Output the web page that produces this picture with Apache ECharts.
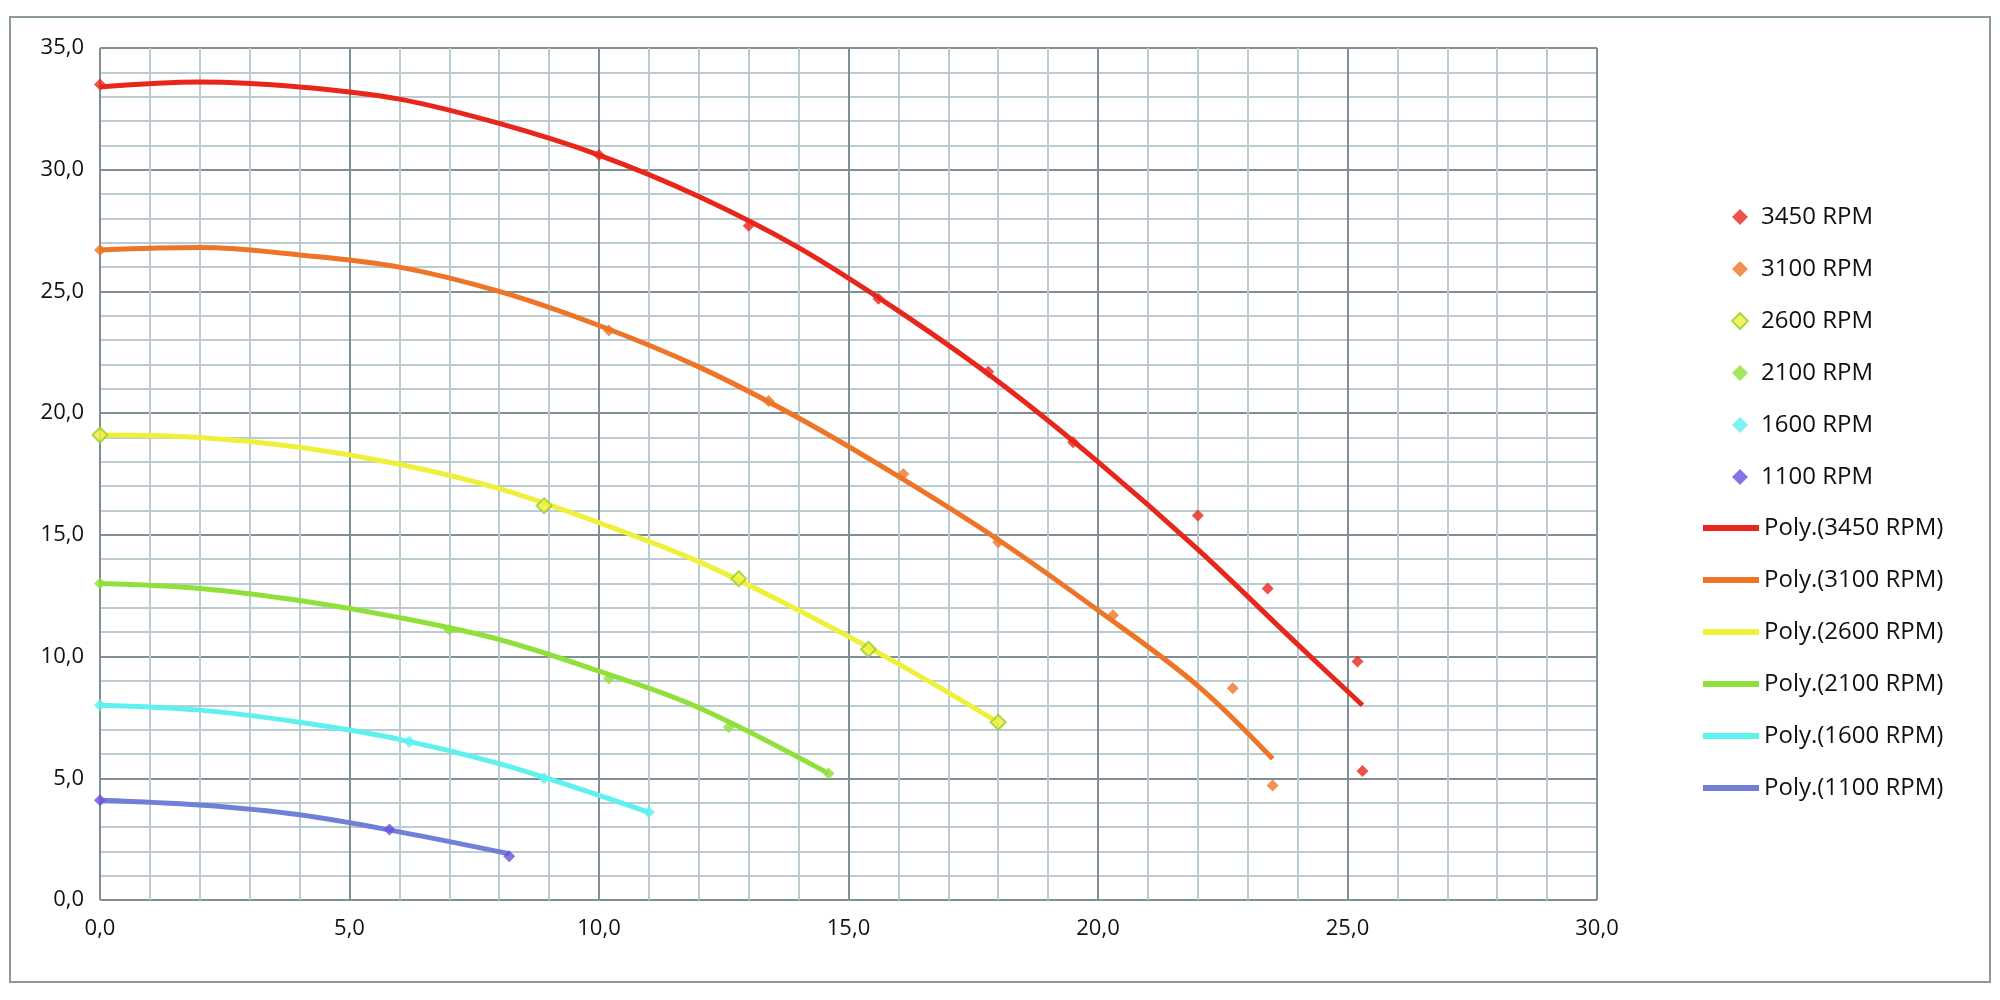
<!DOCTYPE html>
<html><head><meta charset="utf-8">
<script src="https://cdn.jsdelivr.net/npm/echarts@6/dist/echarts.min.js"></script>
<style>html,body{margin:0;background:#fff}#c{width:2000px;height:1000px}</style>
</head><body><div id="c"></div>
<script>
const names = ['3450 RPM','3100 RPM','2600 RPM','2100 RPM','1600 RPM','1100 RPM'];
const colors = ['#e8261c','#ee7527','#eef03a','#8fe03a','#5ff0f0','#7080d8'];
const pointColors = ['#e8261c','#ee7527','#eef03a','#8fe03a','#5ff0f0','#6a4fe0'];
const pts3450 = [[0,33.5],[10,30.6],[13,27.7],[15.6,24.7],[17.8,21.7],[19.5,18.8],[22,15.8],[23.4,12.8],[25.2,9.8],[25.3,5.3]];
const pts3100 = [[0,26.7],[10.2,23.4],[13.4,20.5],[16.1,17.5],[18,14.7],[20.3,11.7],[22.7,8.7],[23.5,4.7]];
const pts2600 = [[0,19.1],[8.9,16.2],[12.8,13.2],[15.4,10.3],[18,7.3]];
const pts2100 = [[0,13],[7,11.1],[10.2,9.1],[12.6,7.1],[14.6,5.2]];
const pts1600 = [[0,8],[6.2,6.5],[8.9,5.0],[11,3.6]];
const pts1100 = [[0,4.1],[5.8,2.9],[8.2,1.8]];
const fit3450 = [[0,33.4],[2,33.6],[4,33.4],[6,32.9],[8,31.9],[10,30.6],[12,28.9],[14,26.8],[16,24.2],[18,21.3],[20,18.0],[22,14.4],[24,10.5],[25.3,8.0]];
const fit3100 = [[0,26.7],[2,26.8],[4,26.5],[6,26.0],[8,25.0],[10,23.6],[12,21.9],[14,19.8],[16,17.4],[18,14.8],[20,11.9],[22,8.8],[23.5,5.8]];
const fit2600 = [[0,19.1],[2,19.0],[4,18.6],[6,17.9],[8,16.9],[10,15.5],[12,13.9],[14,11.9],[16,9.7],[18,7.3]];
const fit2100 = [[0,13.0],[2,12.8],[4,12.3],[6,11.6],[8,10.7],[10,9.4],[12,7.9],[14.6,5.2]];
const fit1600 = [[0,8.0],[2,7.8],[4,7.3],[6,6.6],[8,5.6],[10,4.3],[11,3.6]];
const fit1100 = [[0,4.1],[2,3.9],[4,3.5],[6,2.8],[8.2,1.9]];
const pts = [pts3450,pts3100,pts2600,pts2100,pts1600,pts1100];
const fits = [fit3450,fit3100,fit2600,fit2100,fit1600,fit1100];
const polyNames = names.map(n => 'Poly.(' + n + ')');

const series = [];
fits.forEach((f,i) => series.push({type:'line', name: polyNames[i], data:f, smooth:0.35, showSymbol:false,
  lineStyle:{color:colors[i], width:5}, itemStyle:{color:colors[i]}, z:2}));
pts.forEach((p,i) => series.push({type:'scatter', name: names[i], data:p, symbol:'diamond', symbolSize: i===2?15:12,
  itemStyle: i===2 ? {color:'#eef03a', borderColor:'#9acd32', borderWidth:2} : {color:pointColors[i]}, z:3}));

const fmt = v => v.toFixed(1).replace('.', ',');
const lab = {fontFamily:'Open Sans', fontSize:22, color:'#111'};
const chart = echarts.init(document.getElementById('c'));
chart.setOption({
  animation:false,
  graphic:[{type:'rect', shape:{x:10,y:17,width:1980,height:965}, style:{fill:'none', stroke:'#8a9a9e', lineWidth:2}}],
  grid:{left:100, right:403, top:48, bottom:100},
  xAxis:{type:'value', min:0, max:30, interval:5,
    axisLine:{show:false}, axisTick:{show:false},
    axisLabel:Object.assign({formatter:fmt, margin:18}, lab),
    splitLine:{lineStyle:{color:'#7f8f95', width:2}},
    minorTick:{show:false, splitNumber:5},
    minorSplitLine:{show:true, lineStyle:{color:'#bccbd0', width:2}}},
  yAxis:{type:'value', min:0, max:35, interval:5,
    axisLine:{show:false}, axisTick:{show:false},
    axisLabel:Object.assign({formatter:fmt, margin:16}, lab),
    splitLine:{lineStyle:{color:'#7f8f95', width:2}},
    minorTick:{show:false, splitNumber:5},
    minorSplitLine:{show:true, lineStyle:{color:'#bccbd0', width:2}}},
  legend:[
    {data:names, orient:'vertical', left:1726, top:200, itemWidth:16, itemHeight:16, itemGap:28,
     icon:'diamond', textStyle:{fontFamily:'Open Sans', fontSize:24, lineHeight:24, color:'#111', padding:[0,0,0,8]}},
    {data:polyNames, orient:'vertical', left:1698, top:511, itemWidth:56, itemHeight:6, itemGap:28,
     icon:'rect', textStyle:{fontFamily:'Open Sans', fontSize:24, lineHeight:24, color:'#111', padding:[0,0,0,0]}}
  ],
  series
});
</script></body></html>
